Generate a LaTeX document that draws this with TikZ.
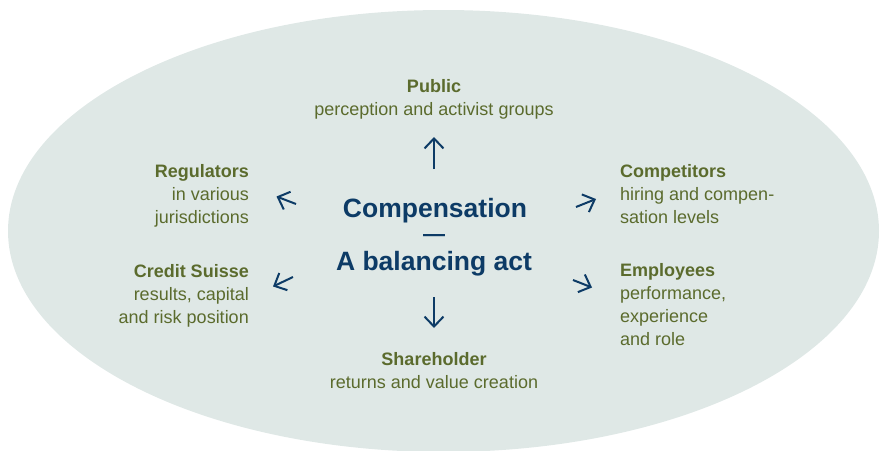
\documentclass[tikz,border=0pt]{standalone}
\usepackage{fontspec}
\setmainfont{Liberation Sans}
\usetikzlibrary{arrows.meta}
\definecolor{bgfill}{HTML}{DFE8E6}
\definecolor{olive}{HTML}{5B6B2D}
\definecolor{navy}{HTML}{0D3B66}
\tikzset{
  lbl/.style={inner sep=0pt, text=olive, font=\fontsize{18}{23}\selectfont},
  centretxt/.style={inner sep=0pt, text=navy, font=\fontsize{26.5}{26.5}\selectfont\bfseries, align=center},
  pointer/.style={draw=navy, line width=2pt, -{Straight Barb[length=10pt,width=19pt]}}
}
\begin{document}
\begin{tikzpicture}[x=1pt,y=-1pt]
\useasboundingbox (0,0) rectangle (881,450);
\fill[bgfill] (443.5,231) ellipse [x radius=435.5, y radius=221];

% centre
\node[centretxt, anchor=base] (c1) at (435,217) {Compensation};
\node[centretxt, anchor=base, font=\fontsize{22}{22}\selectfont\bfseries] (c2) at (434,241) {—};
\node[centretxt, anchor=base] (c3) at (434,270) {A balancing act};

% labels (base anchor = baseline of last line)
\node[lbl, anchor=base, align=center] (pub) at (434,115) {\textbf{Public}\\perception and activist groups};
\node[lbl, anchor=base east, align=right] (reg) at (249,223) {\textbf{Regulators}\\in various\\jurisdictions};
\node[lbl, anchor=base east, align=right] (cs) at (249,323) {\textbf{Credit Suisse}\\results, capital\\and risk position};
\node[lbl, anchor=base west, align=left] (comp) at (620,223) {\textbf{Competitors}\\hiring and compen-\\sation levels};
\node[lbl, anchor=base west, align=left] (emp) at (620,345) {\textbf{Employees}\\performance,\\experience\\and role};
\node[lbl, anchor=base, align=center] (sh) at (434,388) {\textbf{Shareholder}\\returns and value creation};

% arrow ends
\coordinate (upT) at (434,169); \coordinate (upH) at (434,137);
\coordinate (dnT) at (434,297); \coordinate (dnH) at (434,328);
\coordinate (ulT) at (296,204); \coordinate (ulH) at (276.5,196.5);
\coordinate (llT) at (293,277); \coordinate (llH) at (273,286.5);
\coordinate (urT) at (576,207); \coordinate (urH) at (596,199);
\coordinate (lrT) at (573,280); \coordinate (lrH) at (592,287.5);
\draw[pointer] (upT) -- (upH);
\draw[pointer] (dnT) -- (dnH);
\draw[pointer] (ulT) -- (ulH);
\draw[pointer] (llT) -- (llH);
\draw[pointer] (urT) -- (urH);
\draw[pointer] (lrT) -- (lrH);
\end{tikzpicture}
\end{document}
